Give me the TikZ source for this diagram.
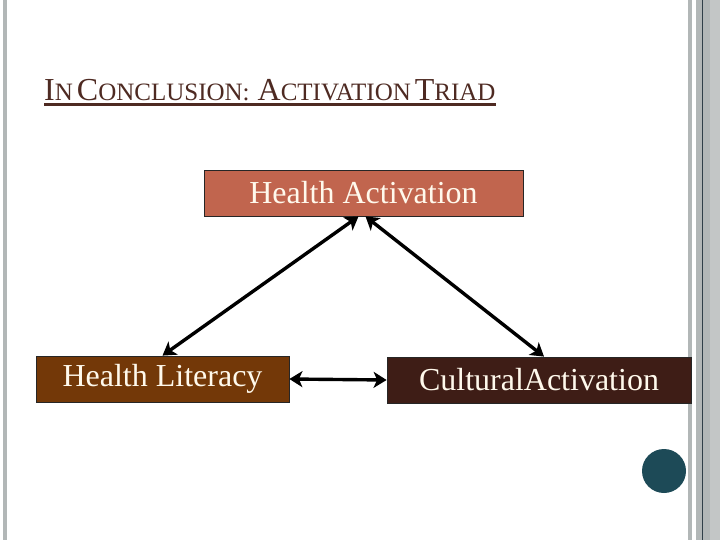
\documentclass[tikz,border=0pt]{standalone}
\usepackage{fontspec}
\setmainfont{Liberation Serif}
\usepackage{xcolor}
\usetikzlibrary{arrows.meta,positioning,calc}

\definecolor{haFill}{HTML}{C1654E}
\definecolor{hlFill}{HTML}{733808}
\definecolor{caFill}{HTML}{3E1D16}
\definecolor{titleCol}{HTML}{4E2A22}
\definecolor{barGray}{HTML}{B2B7B7}
\definecolor{barDark}{HTML}{2F3F48}
\definecolor{dotTeal}{HTML}{1D4A57}
\definecolor{textCream}{HTML}{FFF9EC}

\newcommand{\tcap}[2]{{\fontsize{32}{32}\selectfont #1}{\fontsize{25}{25}\selectfont #2}}
\newcommand{\tgap}{\hspace{4pt}}

\tikzset{
	triadbox/.style={draw=black!85, line width=0.8pt, minimum height=46pt, inner sep=0pt,
		text=textCream, font=\fontsize{32}{36}\selectfont},
	link/.style={line width=3.4pt, {Stealth[length=13pt,width=16pt,inset=3.5pt]}-{Stealth[length=13pt,width=16pt,inset=3.5pt]}}
}

\begin{document}
\begin{tikzpicture}[x=1pt,y=-1pt]
		\useasboundingbox (0,0) rectangle (720,540);
		\fill[white] (0,0) rectangle (720,540);
		% slide edges
		\fill[barGray] (3,0) rectangle (7,540);
		\fill[barGray] (688,0) rectangle (692,540);
		\fill[barGray] (696,0) rectangle (720,540);
		\fill[barDark] (702,0) rectangle (703.2,540);
		\fill[black!8, opacity=0.3] (710,0) rectangle (720,540);
		% title
		\node[anchor=base west, inner sep=0pt, text=titleCol] (title) at (44,101)
			{\tcap{I}{N}\tgap\tcap{C}{ONCLUSION:}\tgap\tgap\tcap{A}{CTIVATION}\tgap\tcap{T}{RIAD}};
		\draw[titleCol, line width=2.2pt] ([yshift=-3.5pt]title.base west) -- ([yshift=-3.5pt]title.base east);
		% triad
		\node[triadbox, fill=haFill, minimum width=319pt] (ha) at (363.5,193) {Health Activation};
		\node[triadbox, fill=hlFill, minimum width=253pt] (hl) at (162.5,379) {Health Literacy};
		\node[triadbox, fill=caFill, minimum width=304pt] (ca) at (539,380) {CulturalActivation};
		\draw[link] ([xshift=-5pt]ha.south) -- (hl.north);
		\draw[link] ([xshift=2pt]ha.south) -- ([xshift=5pt]ca.north);
		\draw[link] (hl.east) -- (ca.west);
		\fill[dotTeal] (664,471) circle (22);
	\end{tikzpicture}
\end{document}
